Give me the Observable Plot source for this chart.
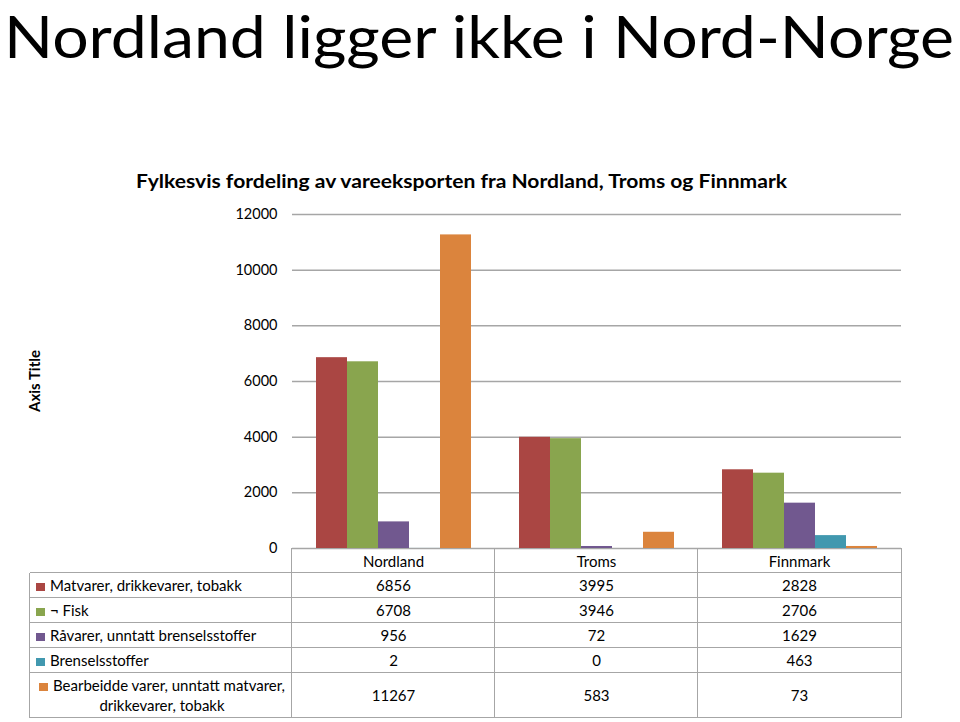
<!DOCTYPE html>
<html>
<head>
<meta charset="utf-8">
<script src="https://cdn.jsdelivr.net/npm/d3@7"></script>
<script src="https://cdn.jsdelivr.net/npm/@observablehq/plot@0.6"></script>
<style>
  html, body { margin: 0; padding: 0; background: #fff; }
  body { width: 960px; height: 722px; position: relative; overflow: hidden; font-family: Lato, "Open Sans", sans-serif; color: #000; }
  #header { position: absolute; left: 0; top: 0; }
  #chart { position: absolute; left: 0; top: 0; }
  #table { position: absolute; left: 0; top: 0; width: 960px; height: 722px; pointer-events: none; }
  .hl { position: absolute; height: 0; border-top: 1.5px solid #a6a6a6; }
  .vl { position: absolute; width: 0; border-left: 1.5px solid #a6a6a6; }
  .cell { position: absolute; font-size: 15px; line-height: 18px; text-align: center; white-space: nowrap; }
  .lab { position: absolute; font-size: 15px; line-height: 20px; white-space: nowrap; }
  .key { display: inline-block; width: 9px; height: 8px; margin-right: 5px; vertical-align: 0px; }
</style>
</head>
<body>
<div id="chart"></div>
<svg id="header" width="960" height="200"></svg>
<div id="table"></div>
<script>
const title = "Nordland ligger ikke i Nord-Norge";
const subtitle = "Fylkesvis fordeling av vareeksporten fra Nordland, Troms og Finnmark";
const axisTitle = "Axis Title";
const regions = ["Nordland", "Troms", "Finnmark"];
const series = [
  "Matvarer, drikkevarer, tobakk",
  "¬ Fisk",
  "Råvarer, unntatt brenselsstoffer",
  "Brenselsstoffer",
  "Bearbeidde varer, unntatt matvarer, drikkevarer, tobakk"
];
const seriesLines = [
  ["Matvarer, drikkevarer, tobakk"],
  ["¬ Fisk"],
  ["Råvarer, unntatt brenselsstoffer"],
  ["Brenselsstoffer"],
  ["Bearbeidde varer, unntatt matvarer,", "drikkevarer, tobakk"]
];
const colors = ["#AA4643", "#89A54E", "#71588F", "#4198AF", "#DB843D"];
const matvarer = [6856, 3995, 2828];
const fisk = [6708, 3946, 2706];
const raavarer = [956, 72, 1629];
const brensel = [2, 0, 463];
const bearbeidde = [11267, 583, 73];
const yTicks = [0, 2000, 4000, 6000, 8000, 10000, 12000];

const seriesValues = [matvarer, fisk, raavarer, brensel, bearbeidde];
const data = [];
regions.forEach((r, i) => series.forEach((s, j) => data.push({region: r, series: s, value: seriesValues[j][i]})));

const W = 960, H = 722;
const mL = 291, mR = 58, mT = 214, mB = 174;
const font = "Lato, 'Open Sans', sans-serif";

const chart = Plot.plot({
  width: W, height: H,
  marginLeft: mL, marginRight: mR, marginTop: mT, marginBottom: mB,
  style: {fontFamily: font, background: "transparent"},
  fx: {domain: regions, padding: 0, axis: null},
  x: {domain: series, paddingInner: 0, paddingOuter: 0.75, axis: null},
  y: {domain: [0, 12000], axis: null},
  color: {domain: series, range: colors},
  marks: [
    Plot.gridY(yTicks, {stroke: "#a6a6a6", strokeOpacity: 1, strokeWidth: 1.5}),
    Plot.axisY({ticks: yTicks, tickSize: 0, tickPadding: 15, fontSize: 14.5, label: null, line: true, stroke: "#a6a6a6", strokeWidth: 1.5, fill: "#000", tickFormat: d => String(d)}),
    Plot.barY(data, {fx: "region", x: "series", y: "value", fill: "series"})
  ]
});
document.getElementById("chart").appendChild(chart);

// header texts
const hdr = d3.select("#header");
hdr.append("text").attr("x", 4).attr("y", 58).attr("font-family", font).attr("font-size", 58)
  .attr("textLength", 950).attr("lengthAdjust", "spacingAndGlyphs").text(title);
hdr.append("text").attr("x", 136).attr("y", 188).attr("font-family", font).attr("font-size", 18).attr("font-weight", "bold")
  .attr("textLength", 651).attr("lengthAdjust", "spacingAndGlyphs").text(subtitle);

// axis title (rotated) in the chart svg
d3.select(chart).append("text").attr("transform", "translate(40,381) rotate(-90)")
  .attr("text-anchor", "middle").attr("font-family", font).attr("font-size", 15).attr("font-weight", "bold").text(axisTitle);

// data table below the axis, columns from the fx scale
const fxs = chart.scale("fx");
const fxScale = Plot.scale({fx: fxs});
const bw = fxScale.bandwidth;
const tbl = document.getElementById("table");
const tableLeft = 30, axisY = mT + (H - mT - mB);
const rowTops = [axisY, 573, 598, 623, 648, 673];
const tableBottom = 718;
const right = W - mR;
function div(cls, style, html) { const d = document.createElement("div"); d.className = cls; Object.assign(d.style, style); if (html !== undefined) d.innerHTML = html; tbl.appendChild(d); return d; }
// horizontal lines
for (let i = 1; i < rowTops.length; i++) div("hl", {left: tableLeft + "px", top: (rowTops[i] - 0.75) + "px", width: (right - tableLeft) + "px"});
div("hl", {left: tableLeft + "px", top: (tableBottom - 0.75) + "px", width: (right - tableLeft) + "px"});
// vertical lines
div("vl", {left: (tableLeft - 0.75) + "px", top: rowTops[1] + "px", height: (tableBottom - rowTops[1]) + "px"});
regions.forEach(r => div("vl", {left: (fxScale.apply(r) - 0.75) + "px", top: axisY + "px", height: (tableBottom - axisY) + "px"}));
div("vl", {left: (right - 0.75) + "px", top: axisY + "px", height: (tableBottom - axisY) + "px"});
// header row
regions.forEach(r => {
  const x0 = fxScale.apply(r);
  div("cell", {left: x0 + "px", width: bw + "px", top: (axisY + 3.5) + "px"}, r);
});
// data rows
series.forEach((s, j) => {
  const top = rowTops[j + 1], bottom = j + 2 < rowTops.length ? rowTops[j + 2] : tableBottom;
  const mid = (top + bottom) / 2;
  const lines = seriesLines[j];
  const key = `<span class="key" style="background:${colors[j]}"></span>`;
  if (lines.length === 1) {
    div("lab", {left: "36px", top: (mid - 10.5) + "px"}, key + lines[0]);
  } else {
    div("lab", {left: "34px", top: (mid - 20.5) + "px", width: "256px", textAlign: "center"}, key + lines[0] + "<br>" + lines[1]);
  }
  regions.forEach((r, i) => {
    const x0 = fxScale.apply(r);
    div("cell", {left: x0 + "px", width: bw + "px", top: (mid - 9.5) + "px"}, String(seriesValues[j][i]));
  });
});
</script>
</body>
</html>
